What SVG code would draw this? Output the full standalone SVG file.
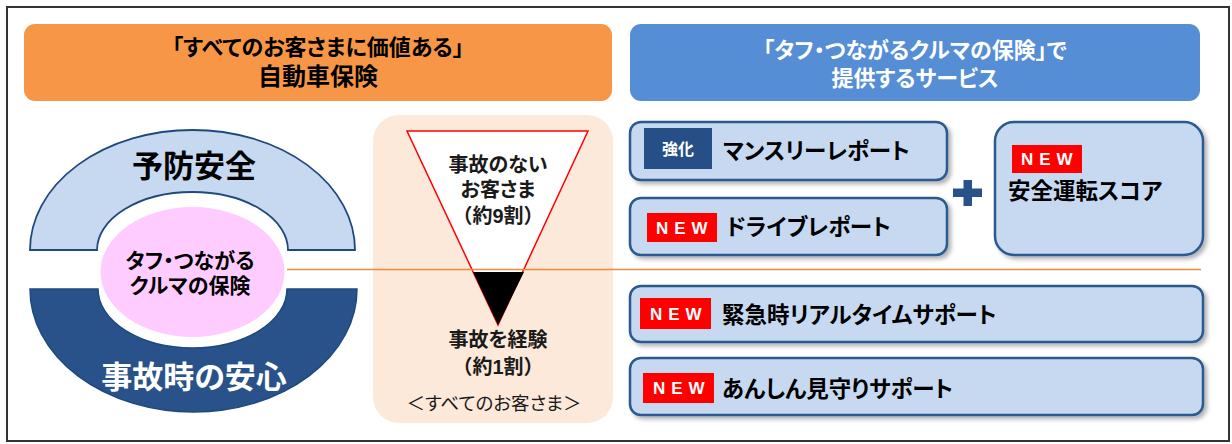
<svg xmlns="http://www.w3.org/2000/svg" width="1232" height="444" viewBox="0 0 1232 444">
  <defs>
    <style>
      text { font-family: "Liberation Sans", "Noto Sans CJK JP", sans-serif; font-feature-settings: "palt"; }
      .b { font-weight: 700; }
      .np { font-feature-settings: normal; }
      .hdr { font-size: 22px; font-weight: 700; text-anchor: middle; dominant-baseline: central; }
      .box { fill: #C6D9F1; stroke: #2C5A8F; stroke-width: 2.5; filter: url(#sh); }
      .lbl { font-size: 22.5px; font-weight: 700; fill: #000; dominant-baseline: central; }
      .new { fill: #FF0000; }
      .newt { font-family: "Liberation Sans", sans-serif; font-size: 17px; font-weight: 700; fill: #fff; letter-spacing: 6px; dominant-baseline: central; }
      .tri { font-size: 20px; font-weight: 700; text-anchor: middle; dominant-baseline: central; fill: #1a1a1a; }
    </style>
    <filter id="sh" x="-10%" y="-20%" width="120%" height="150%">
      <feDropShadow dx="3" dy="3" stdDeviation="2" flood-color="#000" flood-opacity="0.3"/>
    </filter>
  </defs>

  <rect x="0" y="0" width="1232" height="444" fill="#fff"/>
  <rect id="frame" x="7" y="7" width="1222" height="434" fill="none" stroke="#333" stroke-width="2"/>

  <g id="header-left">
    <rect x="24" y="24" width="588" height="77" rx="11" fill="#F79646"/>
    <text class="hdr" x="318" y="47" fill="#000" font-size="22.5">「すべてのお客さまに価値ある」</text>
    <text class="hdr" x="318" y="76" fill="#000" style="font-size:24px">自動車保険</text>
  </g>

  <g id="header-right">
    <rect x="630" y="24" width="570" height="77" rx="11" fill="#558ED5"/>
    <text class="hdr" x="915" y="50" fill="#fff">「タフ・つながるクルマの保険」で</text>
    <text class="hdr" x="915" y="78" fill="#fff">提供するサービス</text>
  </g>

  <g id="yobo-anzen">
    <path d="M 30 250 A 162.5 120 0 0 1 355 250 L 288 250 A 95.5 58 0 0 0 97 250 Z" fill="#C6D9F1" stroke="#1F497D" stroke-width="1.8"/>
    <text x="194" y="166" class="b" font-size="31" text-anchor="middle" dominant-baseline="central" fill="#000">予防安全</text>
  </g>

  <g id="jikoji-anshin">
    <path d="M 30 289 A 163.5 123 0 0 0 357 289 L 287 289 A 94.5 59 0 0 1 98 289 Z" fill="#285289" stroke="#1F497D" stroke-width="1.5"/>
    <text x="194" y="377" class="b" font-size="31" text-anchor="middle" dominant-baseline="central" fill="#fff">事故時の安心</text>
  </g>

  <g id="tough-center">
    <ellipse cx="192.5" cy="272" rx="92" ry="65" fill="#FFCCFF"/>
    <text x="190" y="260" class="b" font-size="21" text-anchor="middle" dominant-baseline="central" fill="#000">タフ・つながる</text>
    <text x="190" y="285" class="b" font-size="21" text-anchor="middle" dominant-baseline="central" fill="#000">クルマの保険</text>
  </g>

  <g id="customers">
    <rect x="373" y="115" width="240" height="308" rx="26" fill="#FDE9D9"/>
    <polygon points="407,131 588,131 498,325" fill="#fff" stroke="#FF0000" stroke-width="1.5"/>
    <polygon points="473,272 524,272 498,325" fill="#000"/>
    <text class="tri" x="498" y="165">事故のない</text>
    <text class="tri" x="498" y="190">お客さま</text>
    <text class="tri np" x="498" y="216">（約9割）</text>
    <text class="tri" x="498" y="340">事故を経験</text>
    <text class="tri np" x="498" y="367">（約1割）</text>
    <text x="494" y="403" font-size="18.5" text-anchor="middle" dominant-baseline="central" fill="#1a1a1a">＜すべてのお客さま＞</text>
  </g>

  <g id="connectors">
    <line x1="287" y1="269.5" x2="1201" y2="269.5" stroke="#F08A3C" stroke-width="1.3"/>
  </g>

  <g id="monthly-report">
    <rect class="box" x="630" y="122" width="317" height="58" rx="11"/>
    <rect x="644" y="128" width="68" height="41" fill="#254F86"/>
    <text x="678" y="149" class="b" font-size="16" text-anchor="middle" dominant-baseline="central" fill="#fff">強化</text>
    <text class="lbl" x="723" y="151">マンスリーレポート</text>
  </g>

  <g id="drive-report">
    <rect class="box" x="630" y="198" width="317" height="57" rx="11"/>
    <rect class="new" x="647" y="213" width="70" height="29"/>
    <text class="newt" x="656" y="228">NEW</text>
    <text class="lbl" x="726" y="227">ドライブレポート</text>
  </g>

  <g id="plus">
    <rect x="953" y="188.5" width="29" height="8.5" fill="#285289"/>
    <rect x="963.5" y="180" width="8.5" height="26" fill="#285289"/>
  </g>

  <g id="safety-score">
    <rect class="box" x="995" y="122" width="208" height="133" rx="19"/>
    <rect class="new" x="1012" y="145" width="70" height="28"/>
    <text class="newt" x="1021" y="159.5">NEW</text>
    <text class="lbl" x="1008" y="191">安全運転スコア</text>
  </g>

  <g id="emergency-support">
    <rect class="box" x="630" y="286" width="573" height="56" rx="11"/>
    <rect class="new" x="640" y="298" width="71" height="31"/>
    <text class="newt" x="650" y="314">NEW</text>
    <text class="lbl" x="722" y="315">緊急時リアルタイムサポート</text>
  </g>

  <g id="anshin-support">
    <rect class="box" x="630" y="358" width="573" height="57" rx="11"/>
    <rect class="new" x="643" y="373" width="71" height="30"/>
    <text class="newt" x="653" y="388.5">NEW</text>
    <text class="lbl" x="722" y="389">あんしん見守りサポート</text>
  </g>
</svg>
